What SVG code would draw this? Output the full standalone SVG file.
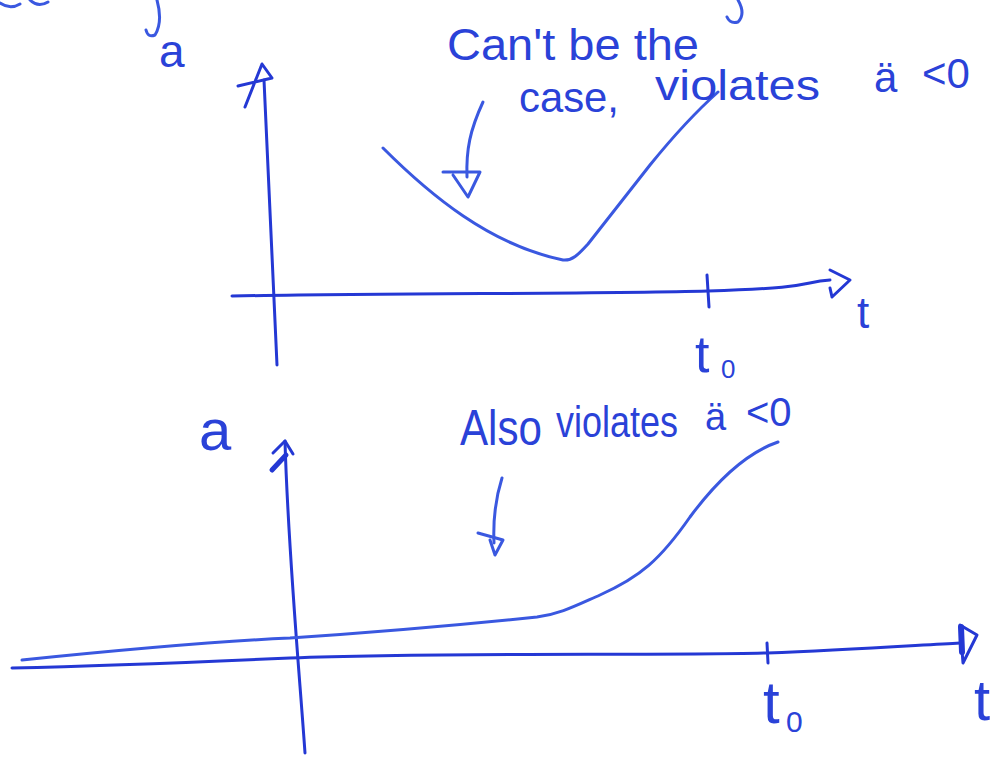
<svg xmlns="http://www.w3.org/2000/svg" width="1001" height="765" viewBox="0 0 1001 765">
<style>
.ax{fill:none;stroke:#2438d4;stroke-width:3;stroke-linecap:round;stroke-linejoin:round}
.cv{fill:none;stroke:#3a58e0;stroke-width:3;stroke-linecap:round;stroke-linejoin:round}
.tx{fill:#2a42d8;font-family:"Liberation Sans","DejaVu Sans",sans-serif}
</style>
<rect width="1001" height="765" fill="#ffffff"/>
<g id="fragments" class="cv">
<path d="M0,3 Q10,10 20,4 M30,0 Q38,8 48,2"/>
<path d="M157,0 Q163,22 155,35 Q148,38 146,30"/>
<path d="M738,0 Q746,14 738,22 Q730,24 727,17"/>
</g>
<g id="top-plot">
<g id="top-axes" class="ax">
<path d="M277,365 Q270,220 264,80"/>
<path d="M245,107 L262,64 L272,78 L238,86"/>
<path d="M232,296 C400,293 600,294 708,291 S800,282 830,280"/>
<path d="M707,275 L709,307"/>
<path d="M830,270 L850,280 L832,297 L830,288"/>
</g>
<g id="top-curve" class="cv">
<path d="M383,148 C430,195 490,245 563,260 C572,261 578,255 588,244 L650,165 C680,128 700,108 718,92"/>
<path d="M483,102 C470,130 466,150 467,177"/>
<path d="M443,172 L480,172 L468,197 L453,175"/>
</g>
<g id="top-labels" class="tx">
<text x="159" y="67" font-size="46">a</text>
<text x="857" y="328" font-size="44">t</text>
<text x="695" y="372" font-size="52">t</text>
<text x="721" y="378" font-size="26">0</text>
<text x="447" y="60" font-size="44" textLength="252" lengthAdjust="spacingAndGlyphs">Can't be the</text>
<text x="519" y="112" font-size="42" textLength="100" lengthAdjust="spacingAndGlyphs">case,</text>
<text x="655" y="100" font-size="42" textLength="165" lengthAdjust="spacingAndGlyphs">violates</text>
<text x="874" y="92" font-size="42">ä</text>
<text x="922" y="88" font-size="42">&lt;0</text>
</g>
</g>
<g id="bottom-plot">
<g id="bottom-axes" class="ax">
<path d="M285,441 C288,550 300,680 305,753"/>
<path d="M273,453 L285,441 L293,454"/>
<path d="M272,470 L286,455" stroke-width="5"/>
<path d="M12,668 C100,666 200,662 290,658 C450,652 650,656 767,653 C850,650 920,645 960,643"/>
<path d="M767,643 L768,663"/>
<path d="M960,625 L977,635 L963,663 Z"/>
<path d="M961,627 L962,652" stroke-width="6"/>
</g>
<g id="bottom-curve" class="cv">
<path d="M22,660 C100,652 200,642 290,638 C380,632 460,625 537,617 C560,614 575,606 600,595 C640,577 660,560 690,517 C710,490 740,455 778,442"/>
<path d="M502,478 C495,500 493,520 494,543"/>
<path d="M478,533 L503,540 L495,555 L490,540"/>
</g>
<g id="bottom-labels" class="tx">
<text x="199" y="450" font-size="58">a</text>
<text x="763" y="723" font-size="60">t</text>
<text x="786" y="732" font-size="30">0</text>
<text x="974" y="720" font-size="58">t</text>
<text x="460" y="445" font-size="50" textLength="82" lengthAdjust="spacingAndGlyphs">Also</text>
<text x="556" y="437" font-size="44" textLength="122" lengthAdjust="spacingAndGlyphs">violates</text>
<text x="705" y="430" font-size="38">ä</text>
<text x="746" y="426" font-size="40">&lt;0</text>
</g>
</g>
</svg>
